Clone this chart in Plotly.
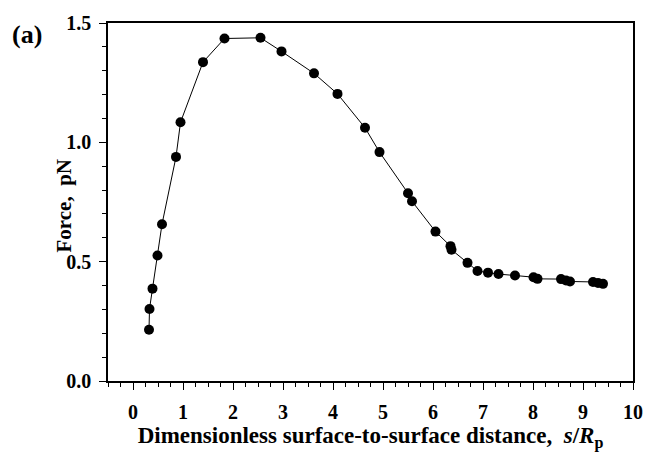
import plotly.graph_objects as go

# Data
s_over_rp = [0.32, 0.33, 0.39, 0.49, 0.58, 0.86, 0.95, 1.40, 1.83, 2.55, 2.97, 3.62,
             4.09, 4.64, 4.93, 5.50, 5.58, 6.05, 6.35, 6.37, 6.69, 6.89, 7.10, 7.31,
             7.64, 8.01, 8.09, 8.56, 8.66, 8.74, 9.20, 9.30, 9.40]
force_pn = [0.215, 0.302, 0.387, 0.526, 0.657, 0.939, 1.084, 1.336, 1.435, 1.438, 1.381, 1.289,
            1.203, 1.061, 0.959, 0.787, 0.753, 0.626, 0.565, 0.550, 0.495, 0.461, 0.454, 0.448,
            0.442, 0.435, 0.428, 0.427, 0.421, 0.417, 0.415, 0.411, 0.407]

x_ticks = [0, 1, 2, 3, 4, 5, 6, 7, 8, 9, 10]
y_ticks = [0.0, 0.5, 1.0, 1.5]
y_tick_labels = ["0.0", "0.5", "1.0", "1.5"]

font_family = "Liberation Serif, Times New Roman, serif"

fig = go.Figure()
fig.add_trace(go.Scatter(
    x=s_over_rp, y=force_pn, mode="lines+markers",
    line=dict(color="black", width=1),
    marker=dict(color="black", size=10),
    showlegend=False,
))

axis_common = dict(
    showline=True, linecolor="black", linewidth=1.5, mirror=True,
    ticks="outside", tickcolor="black", tickwidth=1,
    showgrid=False, zeroline=False,
    tickfont=dict(family=font_family, size=20, color="black", weight="bold"),
)

fig.update_xaxes(
    range=[-0.5, 10], tickvals=x_ticks, ticklen=7,
    minor=dict(dtick=0.25, tick0=0, ticks="outside", ticklen=4, tickcolor="black"),
    ticklabelstandoff=5,
    title=dict(text="<b>Dimensionless surface-to-surface distance,&nbsp;&nbsp;<i>s</i>/<i>R</i><sub>p</sub></b>",
               font=dict(family=font_family, size=23, color="black"), standoff=4),
    **axis_common,
)
fig.update_yaxes(
    range=[0, 1.5], tickvals=y_ticks, ticktext=y_tick_labels, ticklen=7,
    minor=dict(dtick=0.1, tick0=0, ticks="outside", ticklen=4, tickcolor="black"),
    ticklabelstandoff=4,
    **axis_common,
)

# y-axis title placed where the reference puts it (between the tick labels)
fig.add_annotation(
    text="<b>Force,&nbsp;&nbsp;pN</b>", textangle=-90,
    xref="paper", yref="paper", x=-0.084, y=0.49,
    xanchor="center", yanchor="middle", showarrow=False,
    font=dict(family=font_family, size=21, color="black"),
)

fig.add_annotation(
    text="<b>(a)</b>", xref="paper", yref="paper", x=-0.187, y=1.015,
    xanchor="left", yanchor="top", showarrow=False,
    font=dict(family=font_family, size=26, color="black"),
)

fig.update_layout(
    width=655, height=459,
    margin=dict(l=108, r=22, t=12, b=78),
    paper_bgcolor="white", plot_bgcolor="white",
)

fig.write_html("out.html")
